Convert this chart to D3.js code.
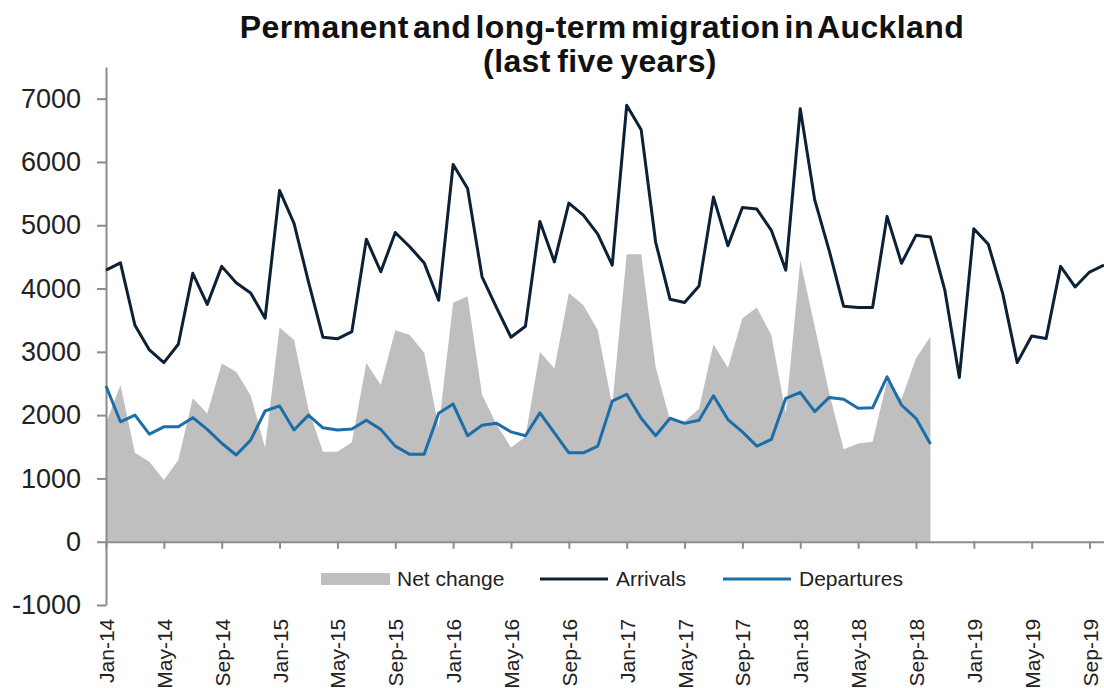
<html>

<head>
    <script src="https://d3js.org/d3.v7.min.js"></script>

    <style>
        body {
            margin: 0;
            background: #fff;
        }

        text {
            font-family: "Liberation Sans", Arial, sans-serif;
        }

        .axis path,
        .axis line {
            stroke: #8c8c8c;
            stroke-width: 2;
        }

        .axis text {
            fill: #222;
        }
    </style>

</head>

<body>
    <svg id="chartArea" height="688" width="1104"></svg>
    <script>
        // months Jan-14 .. Oct-19
        const months = d3.timeMonth.range(new Date(2014, 0, 1), new Date(2019, 10, 1))
            .map(d3.timeFormat("%b-%y"));

        const tickLabels = ["Jan-14", "May-14", "Sep-14", "Jan-15", "May-15", "Sep-15", "Jan-16", "May-16", "Sep-16",
            "Jan-17", "May-17", "Sep-17", "Jan-18", "May-18", "Sep-18", "Jan-19", "May-19", "Sep-19"];

        const yTicks = [-1000, 0, 1000, 2000, 3000, 4000, 5000, 6000, 7000];

        // Jan-14 .. Oct-19
        const arrivals = [
            4290, 4405, 3420, 3030, 2830, 3120, 4240, 3750, 4350, 4090, 3930, 3530,
            5550, 5030, 4105, 3230, 3205, 3320, 4780, 4265, 4885, 4660, 4405, 3815,
            5960, 5580, 4185, 3700, 3230, 3405, 5060, 4420, 5350, 5160, 4860, 4370,
            6895, 6510, 4735, 3830, 3780, 4040, 5445, 4675, 5280, 5255, 4920, 4290,
            6840, 5400, 4600, 3720, 3700, 3700, 5140, 4400, 4840, 4815, 3970, 2595,
            4945, 4700, 3920, 2830, 3250, 3210, 4350, 4025, 4260, 4370];

        // Jan-14 .. Oct-18
        const departures = [
            2460, 1895, 2000, 1700, 1815, 1815, 1960, 1775, 1555, 1370, 1605, 2065,
            2145, 1765, 2000, 1800, 1765, 1780, 1920, 1775, 1510, 1380, 1380, 2030,
            2175, 1675, 1840, 1870, 1735, 1675, 2035, 1720, 1405, 1405, 1510, 2220,
            2330, 1950, 1675, 1950, 1870, 1920, 2305, 1930, 1735, 1510, 1615, 2265,
            2360, 2055, 2280, 2250, 2110, 2115, 2605, 2160, 1950, 1545];

        // Jan-14 .. Oct-18
        const netChange = [
            1870, 2475, 1405, 1265, 975, 1290, 2265, 2025, 2815, 2685, 2315, 1485,
            3385, 3185, 2090, 1420, 1420, 1570, 2825, 2475, 3340, 3265, 2985, 1800,
            3775, 3880, 2320, 1850, 1490, 1660, 3000, 2735, 3930, 3740, 3340, 2150,
            4540, 4540, 2760, 1920, 1900, 2100, 3120, 2750, 3530, 3700, 3260, 2030,
            4440, 3400, 2350, 1460, 1550, 1580, 2540, 2250, 2900, 3240];

        const legendItems = [
            { name: "Net change", color: "#bfbfbf", type: "area" },
            { name: "Arrivals", color: "#0c2135", type: "line" },
            { name: "Departures", color: "#1b6ea8", type: "line" }
        ];

        const svg = d3.select("#chartArea");
        const plot = { left: 106, right: 1104, top: 67, bottom: 605 };

        const xScale = d3.scalePoint()
            .domain(months)
            .range([plot.left, plot.right]);

        const yScale = d3.scaleLinear()
            .domain([-1000, 7500])
            .range([plot.bottom, plot.top]);

        //title
        svg.append("text")
            .attr("x", 602)
            .attr("y", 38)
            .attr("text-anchor", "middle")
            .style("font-size", "32px")
            .style("font-weight", "bold")
            .style("letter-spacing", "0.4px")
            .style("word-spacing", "-5px")
            .attr("fill", "#111")
            .text("Permanent and long-term migration in Auckland");
        svg.append("text")
            .attr("x", 600)
            .attr("y", 72)
            .attr("text-anchor", "middle")
            .style("font-size", "32px")
            .style("font-weight", "bold")
            .style("letter-spacing", "0.4px")
            .style("word-spacing", "-3px")
            .attr("fill", "#111")
            .text("(last five years)");

        //net change area
        const areaGenerator = d3.area()
            .x((d, i) => xScale(months[i]))
            .y0(yScale(0))
            .y1(d => yScale(d));

        svg.append("path")
            .attr("d", areaGenerator(netChange))
            .attr("fill", legendItems[0].color);

        //axes
        let leftAxis = d3.axisLeft(yScale)
            .tickValues(yTicks)
            .tickFormat(d => String(d))
            .tickSize(9)
            .tickSizeOuter(0)
            .tickPadding(16);
        svg.append("g")
            .attr("class", "y axis")
            .attr("transform", `translate(${plot.left},0)`)
            .call(leftAxis)
            .selectAll("text")
            .style("font-size", "27px");

        let bottomAxis = d3.axisBottom(xScale).tickValues(tickLabels).tickSize(7).tickSizeOuter(0);
        const xAxisG = svg.append("g")
            .attr("class", "x axis")
            .attr("transform", `translate(0,${yScale(0)})`)
            .call(bottomAxis);
        xAxisG.selectAll("text")
            .style("font-size", "21px")
            .style("text-anchor", "end")
            .attr("transform", "rotate(-90)")
            .attr("x", -77)
            .attr("y", 0)
            .attr("dy", "0.36em");

        //lines
        const lineGenerator = d3.line()
            .x((d, i) => xScale(months[i]))
            .y(d => yScale(d));

        svg.append("path")
            .attr("d", lineGenerator(arrivals))
            .attr("fill", "none")
            .attr("stroke", legendItems[1].color)
            .attr("stroke-width", 3)
            .attr("stroke-linejoin", "round");

        svg.append("path")
            .attr("d", lineGenerator(departures))
            .attr("fill", "none")
            .attr("stroke", legendItems[2].color)
            .attr("stroke-width", 3)
            .attr("stroke-linejoin", "round");

        //legend
        const legendX = [321, 540, 723];
        const legend = svg.selectAll(".legend")
            .data(legendItems)
            .join("g")
            .attr("class", "legend")
            .attr("transform", (d, i) => `translate(${legendX[i]},579)`);

        legend.filter(d => d.type === "area")
            .append("rect")
            .attr("x", 0).attr("y", -6)
            .attr("width", 69).attr("height", 12)
            .attr("fill", d => d.color);

        legend.filter(d => d.type === "line")
            .append("line")
            .attr("x1", 0).attr("x2", 68)
            .attr("stroke", d => d.color)
            .attr("stroke-width", 3);

        legend.append("text")
            .attr("x", 76)
            .attr("y", 7)
            .style("font-size", "21px")
            .attr("fill", "#222")
            .text(d => d.name);
    </script>
</body>

</html>
